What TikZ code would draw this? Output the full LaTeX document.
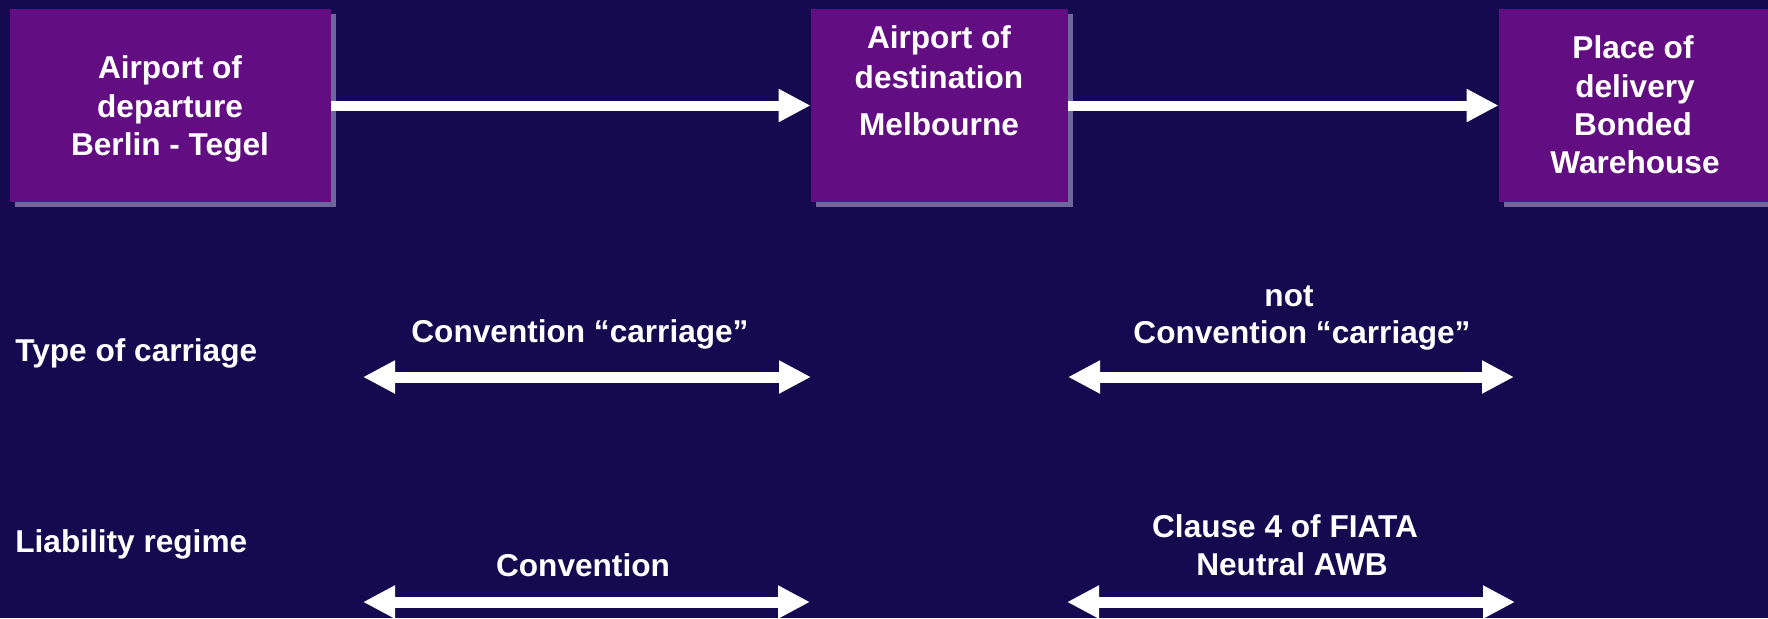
\documentclass[tikz,border=0pt]{standalone}
\usepackage{fontspec}
\setmainfont{Liberation Sans}
\usetikzlibrary{arrows.meta,shadows}
\definecolor{bgc}{RGB}{21,9,80}
\definecolor{boxc}{RGB}{98,13,130}
\definecolor{shadc}{RGB}{108,104,156}
\tikzset{
  box/.style={draw=none, fill=boxc, inner sep=0pt, minimum height=96.5pt,
    drop shadow={shadow xshift=2.5pt, shadow yshift=-2.5pt, fill=shadc, opacity=1}},
  txt/.style={anchor=base, inner sep=0pt, text=white,
    font=\fontsize{15.8pt}{19.25pt}\selectfont\bfseries},
  lefttxt/.style={txt, anchor=base west},
  flow/.style={draw=white, line width=5pt, -{Triangle[length=16pt,width=15.5pt]}},
  span/.style={draw=white, line width=5.5pt, {Triangle[length=16pt,width=15.5pt]}-{Triangle[length=16pt,width=15.5pt]}}
}
\begin{document}
\begin{tikzpicture}[x=0.5pt,y=-0.5pt]
\fill[bgc] (0,0) rectangle (1768,618);
\useasboundingbox (0,0) rectangle (1768,618);
\clip (0,0) rectangle (1768,618);

% boxes
\node[box, minimum width=160.5pt] (b1) at (170.5,105.5) {};
\node[box, minimum width=128.5pt] (b2) at (939.5,105.5) {};
\node[box, minimum width=136pt] (b3) at (1635,105.5) {};

% box texts
\node[txt] (b1l1) at (170,78) {Airport of};
\node[txt] (b1l2) at (170,117) {departure};
\node[txt] (b1l3) at (170,155) {Berlin - Tegel};

\node[txt] (b2l1) at (939,48) {Airport of};
\node[txt] (b2l2) at (939,88) {destination};
\node[txt] (b2l3) at (939,135) {Melbourne};

\node[txt] (b3l1) at (1633,58) {Place of};
\node[txt] (b3l2) at (1635,97) {delivery};
\node[txt] (b3l3) at (1633,135) {Bonded};
\node[txt] (b3l4) at (1635,173) {Warehouse};

% flow arrows
\draw[flow] (b1) -- (b2);
\draw[flow] (b2) -- (b3);

% row labels
\node[lefttxt] (t1) at (15,361) {Type of carriage};
\node[lefttxt] (t2) at (15,552) {Liability regime};

% row 1
\node[txt] (c1) at (580,342) {Convention “carriage”};
\node[txt] (n1) at (1289,306) {not};
\node[txt] (c2) at (1302,343) {Convention “carriage”};
\coordinate (r1a) at (363,377);
\coordinate (r1b) at (811,377);
\coordinate (r1c) at (1068,377);
\coordinate (r1d) at (1514,377);
\draw[span] (r1a) -- (r1b);
\draw[span] (r1c) -- (r1d);

% row 2
\node[txt] (c3) at (583,576) {Convention};
\node[txt] (f1) at (1285,537) {Clause 4 of FIATA};
\node[txt] (f2) at (1292,575) {Neutral AWB};
\coordinate (r2a) at (363,602);
\coordinate (r2b) at (810,602);
\coordinate (r2c) at (1067,602);
\coordinate (r2d) at (1515,602);
\draw[span] (r2a) -- (r2b);
\draw[span] (r2c) -- (r2d);
\end{tikzpicture}
\end{document}
